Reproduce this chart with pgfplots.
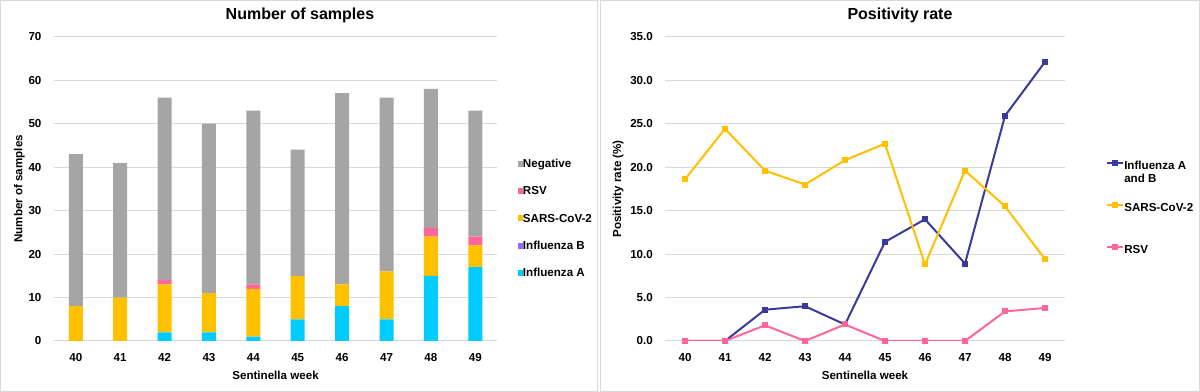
\documentclass[border=0pt]{standalone}
\usepackage{fontspec}
\setmainfont{Liberation Sans}
\usepackage{pgfplots}
\pgfplotsset{compat=1.18}
\definecolor{cneg}{HTML}{A5A5A5}
\definecolor{crsv}{HTML}{FF6699}
\definecolor{csars}{HTML}{FFC000}
\definecolor{cinfb}{HTML}{9966FF}
\definecolor{cinfa}{HTML}{00CCFF}
\definecolor{cflu}{HTML}{3A3A9C}
\definecolor{cgrid}{HTML}{D9D9D9}
\definecolor{cframe}{HTML}{D9D9D9}
\pgfplotsset{
 common/.style={
   scale only axis, height=228.2pt,
   xmin=39.5, xmax=49.5, xtick={40,...,49},
   ymajorgrids, grid style={cgrid, line width=0.75pt},
   axis line style={draw=none},
   major tick length=0pt,
   /pgf/number format/assume math mode=true,
   ticklabel style={font=\fontsize{8.7}{10}\selectfont\bfseries},
   yticklabel style={xshift=-5.6pt},
   xticklabel style={yshift=-6pt},
   label style={font=\fontsize{8.7}{10}\selectfont\bfseries},
   every axis title shift=0pt,
   title style={font=\fontsize{12}{14}\selectfont\bfseries, anchor=center, yshift=0pt},
   xlabel style={at={(axis description cs:0.5,-0.1117)}, anchor=center},
   legend style={draw=none, fill=none, anchor=north west, inner sep=0pt,
     font=\fontsize{8.7}{9.75}\selectfont\bfseries,
     nodes={inner sep=0pt, text height=7pt, text depth=2pt}},
   legend cell align=left,
 }
}
\begin{document}
\begin{tikzpicture}[x=1pt,y=1pt]
\useasboundingbox (0,0) rectangle (900,294);
\draw[cframe, line width=0.75pt] (0.4,0.4) rectangle (448.2,293.6);
\draw[cframe, line width=0.75pt] (450.6,0.4) rectangle (899.6,293.6);
\begin{axis}[common,
  at={(40.2pt,38.25pt)}, anchor=south west,
  width=332.9pt,
  ymin=0, ymax=70, ytick={0,10,...,70},
  ybar stacked, bar width=10.5pt,
  title={Number of samples},
  title style={at={(axis description cs:0.555,1.069)}},
  xlabel={Sentinella week},
  ylabel={Number of samples},
  ylabel style={at={(axis description cs:-0.0772,0.5)}, anchor=center},
  reverse legend,
  legend image code/.code={\fill[#1] (0pt,-2.1pt) rectangle (4pt,2.4pt);},
  legend style={at={(axis description cs:1.0448,0.6014)}, row sep=11.4pt,
    /tikz/every even column/.append style={column sep=2.6pt}},
]
\addplot[fill=cinfa, draw=none] coordinates {(40,0)(41,0)(42,2)(43,2)(44,1)(45,5)(46,8)(47,5)(48,15)(49,17)};
\addplot[fill=cinfb, draw=none] coordinates {(40,0)(41,0)(42,0)(43,0)(44,0)(45,0)(46,0)(47,0)(48,0)(49,0)};
\addplot[fill=csars, draw=none] coordinates {(40,8)(41,10)(42,11)(43,9)(44,11)(45,10)(46,5)(47,11)(48,9)(49,5)};
\addplot[fill=crsv, draw=none] coordinates {(40,0)(41,0)(42,1)(43,0)(44,1)(45,0)(46,0)(47,0)(48,2)(49,2)};
\addplot[fill=cneg, draw=none] coordinates {(40,35)(41,31)(42,42)(43,39)(44,40)(45,29)(46,44)(47,40)(48,32)(49,29)};
\legend{Influenza A,Influenza B,SARS-CoV-2,RSV,Negative}
\end{axis}
\begin{axis}[common,
  at={(498.75pt,38.25pt)}, anchor=south west,
  width=300pt,
  ymin=0, ymax=35, ytick={0,5,...,35},
  yticklabel style={/pgf/number format/.cd, fixed, fixed zerofill, precision=1},
  title={Positivity rate},
  title style={at={(axis description cs:0.5875,1.069)}},
  xlabel={Sentinella week},
  ylabel={Positivity rate (\%)},
  ylabel style={at={(axis description cs:-0.1175,0.5)}, anchor=center},
  legend image code/.code={\draw[#1, mark repeat=2, mark phase=2, mark size=1.4pt] plot coordinates {(0pt,2.6pt)(6pt,2.6pt)(12pt,2.6pt)};},
  legend style={at={(axis description cs:1.1025,0.5948)}, row sep=22.5pt,
    /tikz/every even column/.append style={column sep=0.8pt}},
  every axis plot/.append style={line width=1.5pt, mark=square*, mark size=1.5pt, mark options={line width=0.4pt}},
]
\addplot[cflu, mark options={fill=cflu}] coordinates {(40,0)(41,0)(42,3.6)(43,4.0)(44,1.9)(45,11.4)(46,14.0)(47,8.9)(48,25.9)(49,32.1)};
\addplot[csars, mark options={fill=csars}] coordinates {(40,18.6)(41,24.4)(42,19.6)(43,18.0)(44,20.8)(45,22.7)(46,8.8)(47,19.6)(48,15.5)(49,9.4)};
\addplot[crsv, mark options={fill=crsv}] coordinates {(40,0)(41,0)(42,1.8)(43,0)(44,1.9)(45,0)(46,0)(47,0)(48,3.4)(49,3.8)};
\legend{{\smash{\parbox[t]{60pt}{Influenza A\\and B}}},SARS-CoV-2,RSV}
\end{axis}
\end{tikzpicture}
\end{document}
